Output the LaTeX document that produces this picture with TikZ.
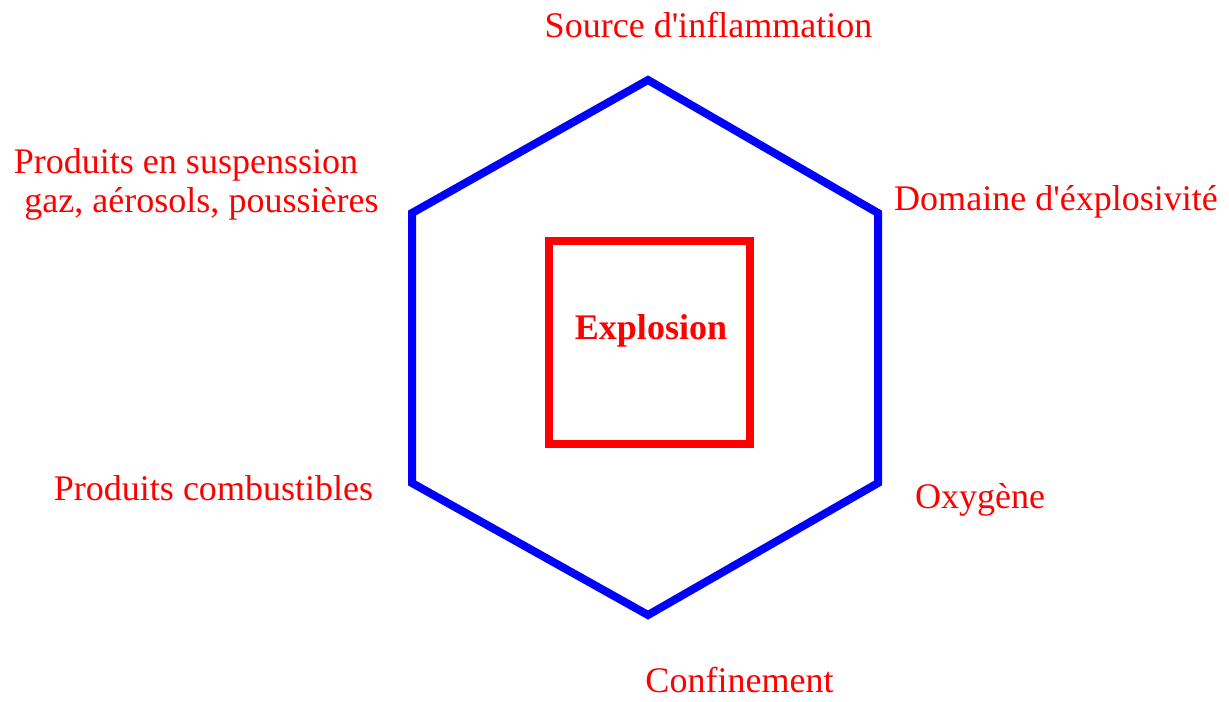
\documentclass[tikz,border=0pt]{standalone}
\usepackage{fontspec}
\setmainfont{Liberation Serif}
\definecolor{hexblue}{RGB}{0,0,255}
\definecolor{labelred}{RGB}{255,0,0}
\tikzset{
  hexline/.style={draw=hexblue, line width=0.16cm},
  boxline/.style={draw=labelred, line width=0.15cm},
  factor/.style={text=labelred, anchor=base, inner sep=0pt},
}
\begin{document}
\begin{tikzpicture}[x=0.02cm, y=-0.02cm]
        \useasboundingbox (0,0) rectangle (1229,701);
        {\fontsize{20.5}{24}\selectfont

        % Corners of the hexagon
        \coordinate (top) at (648,80);%
        \coordinate (upright) at (878,213);%
        \coordinate (lowright) at (878,483);%
        \coordinate (bottom) at (648,615);%
        \coordinate (lowleft) at (412,483);%
        \coordinate (upleft) at (412,213);%

        % Drawing the hexagon
        \draw [hexline] (top) -- (upright) -- (lowright) -- (bottom) -- (lowleft) -- (upleft) -- cycle;%

        % Drawing the inner square
        \draw [boxline] (549,241) rectangle (750,444);%
        \node (explosion) at (651,339) [factor, font=\bfseries] {Explosion};%

        % Labels round the hexagon
        \node (source) at (708.5,37) [factor] {Source d\textquotesingle inflammation};%
        \node (suspension) at (186,173) [factor] {Produits en suspenssion};%
        \node (aerosols) at (201.5,212) [factor] {gaz, aérosols, poussières};%
        \node (domaine) at (1056,210) [factor] {Domaine d\textquotesingle éxplosivité};%
        \node (combustibles) at (213.5,500) [factor] {Produits combustibles};%
        \node (oxygene) at (980,508) [factor] {Oxygène};%
        \node (confinement) at (739.5,692) [factor] {Confinement};%
        }
    \end{tikzpicture}
\end{document}
